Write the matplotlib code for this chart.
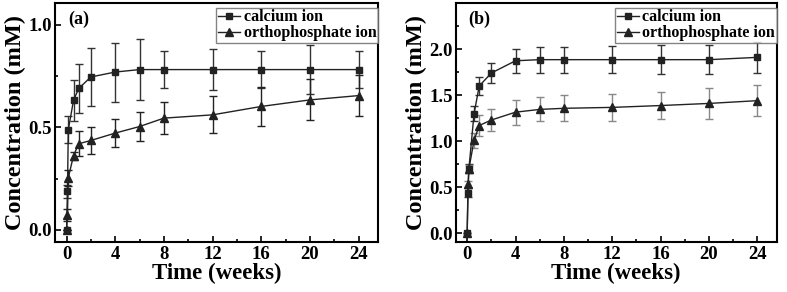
import numpy as np
import matplotlib.pyplot as plt
from matplotlib.ticker import MultipleLocator

plt.rcParams['font.family'] = ['Liberation Serif', 'DejaVu Serif']
plt.rcParams['font.weight'] = 'bold'

# sampling times (weeks)
weeks = [0, 1/14, 1/7, 4/7, 1, 2, 4, 6, 8, 12, 16, 20, 24]

# panel (a)
ca_a = [0.0, 0.187, 0.488, 0.632, 0.69, 0.746, 0.77, 0.782, 0.782, 0.782, 0.782, 0.782, 0.782]
ca_a_err = [0.0, 0.03, 0.065, 0.10, 0.12, 0.14, 0.144, 0.15, 0.09, 0.10, 0.09, 0.12, 0.09]
po_a = [0.0, 0.073, 0.254, 0.362, 0.42, 0.436, 0.472, 0.504, 0.545, 0.561, 0.602, 0.634, 0.655]
po_a_err = [0.0, 0.03, 0.04, 0.02, 0.06, 0.065, 0.067, 0.073, 0.077, 0.09, 0.094, 0.10, 0.10]

# panel (b)
ca_b = [0.0, 0.44, 0.70, 1.30, 1.60, 1.74, 1.873, 1.885, 1.885, 1.885, 1.885, 1.885, 1.91]
ca_b_err = [0.0, 0.05, 0.05, 0.08, 0.10, 0.11, 0.13, 0.14, 0.14, 0.145, 0.155, 0.155, 0.165]
po_b = [0.0, 0.53, 0.70, 1.01, 1.17, 1.23, 1.315, 1.345, 1.357, 1.367, 1.387, 1.41, 1.44]
po_b_err = [0.0, 0.04, 0.04, 0.08, 0.11, 0.12, 0.135, 0.13, 0.14, 0.145, 0.15, 0.165, 0.17]

fig = plt.figure(figsize=(7.87, 2.92), dpi=100)
ax_a = fig.add_axes([0.0699, 0.171, 0.4104, 0.8187])
ax_b = fig.add_axes([0.579, 0.171, 0.408, 0.8187])


def draw(ax, ca, ca_err, po, po_err, po_ecolor, ylim, tag):
    ax.errorbar(weeks, ca, yerr=ca_err, color='#222222', ecolor='#333333',
                marker='s', markersize=5, linewidth=1.0, elinewidth=1.0,
                capsize=3, capthick=1.0, label='calcium ion', zorder=3)
    ax.errorbar(weeks, po, yerr=po_err, color='#222222', ecolor=po_ecolor,
                marker='^', markersize=5.5, linewidth=1.0, elinewidth=1.0,
                capsize=3, capthick=1.0, label='orthophosphate ion', zorder=3)
    ax.set_xlim(-0.95, 25.6)
    ax.set_ylim(*ylim)
    ax.set_xticks([0, 4, 8, 12, 16, 20, 24])
    ax.xaxis.set_minor_locator(MultipleLocator(2))
    ax.yaxis.set_minor_locator(MultipleLocator(0.25))
    ax.tick_params(which='both', direction='in', labelsize=13.5, width=1.2)
    ax.tick_params(axis='y', pad=2)
    ax.tick_params(axis='x', pad=3)
    ax.tick_params(which='major', length=4)
    ax.tick_params(which='minor', length=2.5)
    for s in ax.spines.values():
        s.set_linewidth(1.5)
    ax.set_xlabel('Time (weeks)', fontsize=16.5, fontweight='bold', labelpad=0)
    ax.set_ylabel('Concentration (mM)', fontsize=17.5, fontweight='bold', labelpad=2)
    ax.text(0.04, 0.93, tag, transform=ax.transAxes, fontsize=13,
            fontweight='bold', va='center', ha='left')
    h, l = ax.get_legend_handles_labels()
    h = [x[0] for x in h]
    leg = ax.legend(h, l, loc='upper right', bbox_to_anchor=(1.0, 0.98),
                    frameon=True, fancybox=False, borderaxespad=0.0,
                    borderpad=0.1, handlelength=1.4, handletextpad=0.2,
                    labelspacing=0.0,
                    prop={'weight': 'bold', 'size': 11.5})
    leg.get_frame().set_edgecolor('#666666')
    leg.get_frame().set_linewidth(1.0)


draw(ax_a, ca_a, ca_a_err, po_a, po_a_err, '#222222', (-0.06, 1.107), '(a)')
ax_a.set_yticks([0.0, 0.5, 1.0])
ax_a.set_yticklabels(['0.0', '0.5', '1.0'])

draw(ax_b, ca_b, ca_b_err, po_b, po_b_err, '#888888', (-0.095, 2.5), '(b)')
ax_b.set_yticks([0.0, 0.5, 1.0, 1.5, 2.0])
ax_b.set_yticklabels(['0.0', '0.5', '1.0', '1.5', '2.0'])

fig.savefig('out.png', dpi=100)
